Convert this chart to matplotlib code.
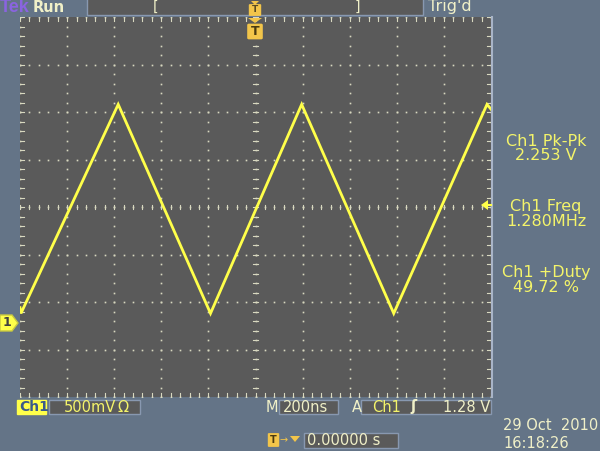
import numpy as np
import matplotlib.pyplot as plt
from matplotlib.patches import Rectangle, FancyBboxPatch, Polygon

# Channel 1 waveform: triangle vertices
vertex_time_ns = [-1000, -996, -583, -191, 196, 587, 983, 1000]
vertex_volts = [0.16, 0.10, 2.30, 0.10, 2.30, 0.10, 2.30, 2.25]

# scope settings
volts_per_div = 0.5
ns_per_div = 200
ground_offset_div = 2.44   # ground marker below centre

meas_titles = ['Ch1 Pk-Pk', 'Ch1 Freq', 'Ch1 +Duty']
meas_values = ['2.253 V', '1.280MHz', '49.72 %']

BG = '#647487'
SCREEN = '#5a5a5a'
TRACE = '#ffff4a'
YEL = '#f4f46a'
CREAM = '#f0f0c8'
DOT = '#d8d8c0'
GOLD = '#f2c54a'
BOXEDGE = '#8898b0'

W, H = 600, 451
fig = plt.figure(figsize=(6, 4.51), dpi=100, facecolor=BG)


def fx(x):
    return x / W


def fy(y):
    return 1 - y / H


def box(x0, y0, x1, y1, fc=SCREEN, ec=BOXEDGE, lw=1.0):
    r = Rectangle((fx(x0), fy(y1)), fx(x1) - fx(x0), fy(y0) - fy(y1),
                  transform=fig.transFigure, facecolor=fc, edgecolor=ec,
                  linewidth=lw, zorder=1)
    fig.patches.append(r)


def txt(x, y, s, color=CREAM, size=10, ha='left', weight='normal', **kw):
    fig.text(fx(x), fy(y), s, color=color, fontsize=size, ha=ha, va='center',
             fontweight=weight, family='DejaVu Sans', **kw)


# graticule area
left, top, right, bottom = 20, 17, 491, 397
ax = fig.add_axes([fx(left), fy(bottom), fx(right) - fx(left), fy(top) - fy(bottom)])
ax.set_facecolor(SCREEN)
for s in ax.spines.values():
    s.set_visible(False)
ax.set_xticks([])
ax.set_yticks([])

center_v = ground_offset_div * volts_per_div
ax.set_xlim(-5 * ns_per_div, 5 * ns_per_div)
ax.set_ylim(center_v - 4 * volts_per_div, center_v + 4 * volts_per_div)

# dotted grid (in axes fraction)
T = ax.transAxes
for i in range(11):
    ys = np.arange(0, 41) / 40
    ax.plot(np.full_like(ys, i / 10), ys, 's', ms=1.2, mew=0, color=DOT, transform=T, zorder=1)
for j in range(9):
    xs = np.arange(0, 51) / 50
    ax.plot(xs, np.full_like(xs, j / 8), 's', ms=1.2, mew=0, color=DOT, transform=T, zorder=1)

# minor ticks on centre cross and borders
tick_x = 4 / 470
tick_y = 4 / 380
for xs in np.arange(0, 51) / 50:
    ax.plot([xs, xs], [0.5 - tick_y / 2, 0.5 + tick_y / 2], color=DOT, lw=0.8, transform=T, zorder=1)
    ax.plot([xs, xs], [1, 1 - tick_y], color=DOT, lw=0.8, transform=T, zorder=1)
    ax.plot([xs, xs], [0, tick_y], color=DOT, lw=0.8, transform=T, zorder=1)
for ys in np.arange(0, 41) / 40:
    ax.plot([0.5 - tick_x / 2, 0.5 + tick_x / 2], [ys, ys], color=DOT, lw=0.8, transform=T, zorder=1)
    ax.plot([0, tick_x], [ys, ys], color=DOT, lw=0.8, transform=T, zorder=1)
    ax.plot([1, 1 - tick_x], [ys, ys], color=DOT, lw=0.8, transform=T, zorder=1)

# the trace
ax.plot(vertex_time_ns, vertex_volts, color=TRACE, lw=2.0, zorder=5, solid_joinstyle='miter')

# right border line
fig.add_artist(plt.Line2D([fx(491.5), fx(491.5)], [fy(17), fy(397)], color='#a8b4c8', lw=1.5,
                          transform=fig.transFigure))

# top status bar
fig.text(fx(0), fy(8), 'Tek', color='#8a64e0', fontsize=13, fontweight='bold', va='center',
         family='Liberation Sans')
txt(33, 7, 'Run', size=10.5, weight='bold')
box(87, -2, 423, 15)
txt(153, 7, '[', size=10)
txt(355, 7, ']', size=10)
txt(428, 7, "Trig'd", size=11.5)

# small trigger-position marker in top bar
fig.patches.append(Polygon([(fx(251), fy(1)), (fx(259), fy(1)), (fx(255), fy(5))],
                           closed=True, transform=fig.transFigure, facecolor=GOLD, zorder=3))
fig.patches.append(FancyBboxPatch((fx(250), fy(15)), fx(10), fy(5) - fy(15),
                                  boxstyle='round,pad=0.002', transform=fig.transFigure,
                                  facecolor=GOLD, edgecolor='none', zorder=3))
fig.text(fx(255), fy(10), 'T', color='#5a4a20', fontsize=6.5, fontweight='bold',
         ha='center', va='center', zorder=4)

# big trigger marker below top
fig.patches.append(Polygon([(fx(248), fy(18)), (fx(262), fy(18)), (fx(255), fy(23))],
                           closed=True, transform=fig.transFigure, facecolor=GOLD, zorder=3))
fig.patches.append(FancyBboxPatch((fx(249), fy(38)), fx(12), fy(25) - fy(38),
                                  boxstyle='round,pad=0.003', transform=fig.transFigure,
                                  facecolor=GOLD, edgecolor='none', zorder=3))
fig.text(fx(255), fy(31.5), 'T', color='#4a3a10', fontsize=9, fontweight='bold',
         ha='center', va='center', zorder=4)

# ground marker "1"
gy = 323
fig.patches.append(Polygon([(fx(0), fy(gy - 8)), (fx(12), fy(gy - 8)), (fx(18), fy(gy)),
                            (fx(12), fy(gy + 8)), (fx(0), fy(gy + 8))],
                           closed=True, transform=fig.transFigure, facecolor=TRACE,
                           edgecolor='#c8c840', zorder=3))
fig.text(fx(7), fy(gy), '1', color='#404040', fontsize=9, fontweight='bold',
         ha='center', va='center', zorder=4)

# trigger level arrow on right
fig.patches.append(Polygon([(fx(481), fy(205)), (fx(488), fy(200)), (fx(488), fy(210))],
                           closed=True, transform=fig.transFigure, facecolor=TRACE, zorder=3))
fig.add_artist(plt.Line2D([fx(486), fx(491)], [fy(205), fy(205)], color=TRACE, lw=1.5,
                          transform=fig.transFigure))

# measurements on the right
for k, (ttl, val) in enumerate(zip(meas_titles, meas_values)):
    y0 = 141 + k * 65.5
    txt(546, y0, ttl, color=YEL, size=11.5, ha='center')
    txt(546, y0 + 15, val, color=YEL, size=11.5, ha='center')

# bottom status line
box(17, 400, 46, 414, fc=TRACE, ec=TRACE)
txt(19, 407, 'Ch1', color='#3a5a8a', size=10, weight='bold')
box(49, 400, 140, 414)
txt(64, 407, '500mV', color=YEL, size=10.5)
txt(118, 407, 'Ω', color=YEL, size=10.5)
txt(266, 407, 'M', size=10.5)
box(279, 400, 338, 414)
txt(283, 407, '200ns', size=10.5)
txt(352, 407, 'A', size=10.5)
box(361, 400, 491, 414)
txt(372, 407, 'Ch1', color=YEL, size=10.5)
txt(410, 407, 'ʃ', size=10.5, weight='bold')
txt(443, 407, '1.28 V', size=10.5)

# trigger position readout
fig.patches.append(FancyBboxPatch((fx(269), fy(446)), fx(9), fy(434) - fy(446),
                                  boxstyle='round,pad=0.002', transform=fig.transFigure,
                                  facecolor=GOLD, edgecolor='none', zorder=3))
fig.text(fx(273.5), fy(440), 'T', color='#4a3a10', fontsize=7, fontweight='bold',
         ha='center', va='center', zorder=4)
fig.text(fx(279), fy(440), '→', color=GOLD, fontsize=7, va='center')
fig.patches.append(Polygon([(fx(290), fy(436)), (fx(300), fy(436)), (fx(295), fy(442))],
                           closed=True, transform=fig.transFigure, facecolor=GOLD, zorder=3))
box(304, 433, 398, 448)
txt(307, 440.5, '0.00000 s', size=10.5)

# date and time
txt(503, 426, '29 Oct  2010', size=10.5)
txt(503, 443, '16:18:26', size=10.5)

fig.savefig('out.png', dpi=100, facecolor=BG)
